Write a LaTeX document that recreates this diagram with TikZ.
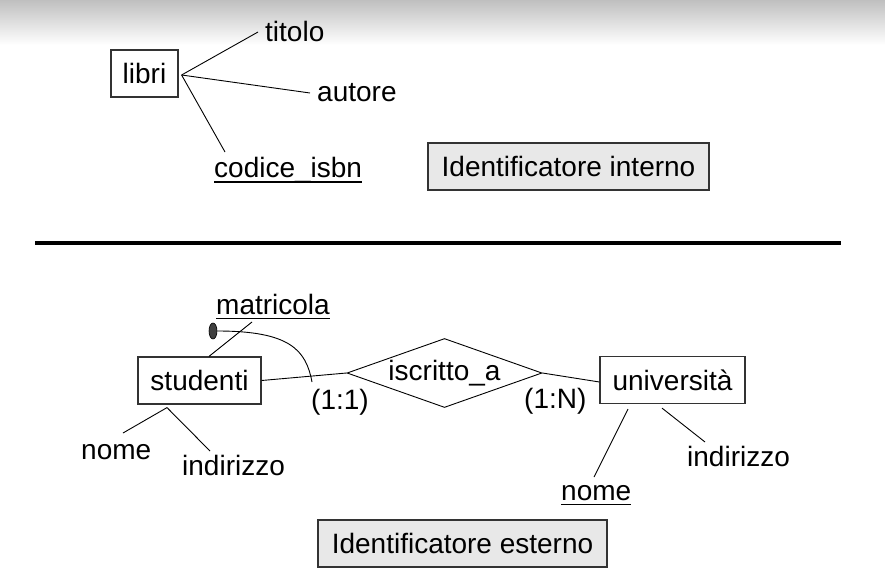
\documentclass[tikz,border=0pt]{standalone}
\usepackage{fontspec}
\setmainfont{Liberation Sans}
\usetikzlibrary{shapes.geometric}
\begin{document}
\begin{tikzpicture}[x=1pt,y=-1pt,
  every node/.style={font=\fontsize{28}{32}\selectfont, inner sep=0pt},
  ent/.style={draw=black!80, line width=1.2pt, fill=white, minimum height=47pt, text height=20pt, text depth=0pt},
  idbox/.style={draw=black!80, line width=1.2pt, fill=black!9, minimum height=47pt, text height=20pt, text depth=0pt},
  txt/.style={anchor=base west},
  conn/.style={line width=0.9pt},
  uline/.style={line width=1.8pt}]
\useasboundingbox (0,0) rectangle (885,583);
\fill[top color=black!25, bottom color=white] (0,0) rectangle (885,45);

% top part
\node[ent, minimum width=67pt] (libri) at (144.5,73.5) {libri};
\node[txt] (titolo) at (265,42) {titolo};
\node[txt] (autore) at (317,102) {autore};
\node[txt] (isbn) at (214,177) {codice\_isbn};
\node[idbox, minimum width=281pt] (idint) at (568.5,166.5) {Identificatore interno};
\coordinate (lh) at ([xshift=3pt,yshift=-1.5pt]libri.east);
\draw[conn] (lh) -- ([xshift=-7pt,yshift=10pt]titolo.base west);
\draw[conn] (lh) -- ([xshift=-7pt,yshift=9pt]autore.base west);
\draw[conn] (lh) -- ([xshift=11pt,yshift=25pt]isbn.base west);
\draw[uline] ([yshift=-5pt]isbn.base west) -- ([yshift=-5pt]isbn.base east);

% separator
\coordinate (r1) at (35,243);
\coordinate (r2) at (841,243);
\draw[line width=3.5pt] (r1) -- (r2);

% bottom part
\node[ent, minimum width=123pt] (stud) at (199.5,380.5) {studenti};
\node[diamond, draw=black, line width=0.9pt, aspect=2.83, minimum width=195pt, minimum height=69pt] (rel) at (444.5,373) {iscritto\_a};
\node[ent, minimum width=145pt] (univ) at (672.5,380) {università};
\node[txt] (matr) at (216,314) {matricola};
\draw[uline] ([yshift=-4.5pt]matr.base west) -- ([yshift=-4.5pt]matr.base east);
\node[txt] (c11) at (311,409) {(1:1)};
\node[txt] (c1n) at (524,408) {(1:N)};
\node[txt] (nomeS) at (81,459) {nome};
\node[txt] (indS) at (182,475) {indirizzo};
\node[txt] (nomeU) at (561,500) {nome};
\draw[uline] ([yshift=-4.5pt]nomeU.base west) -- ([yshift=-4.5pt]nomeU.base east);
\node[txt] (indU) at (687,466) {indirizzo};
\node[idbox, minimum width=289pt] (idest) at (462.5,543.5) {Identificatore esterno};
\node[ellipse, draw=black, fill=black!75, minimum width=8pt, minimum height=16pt, line width=0.6pt] (oval) at (213,331) {};

\draw[conn] (stud.east) -- (rel.west);
\draw[conn] (rel.east) -- ([yshift=-2pt]univ.west);
\draw[conn] ([xshift=36pt,yshift=-8pt]matr.base west) -- ([xshift=9.5pt]stud.north);
\coordinate (cend) at (312,382);
\draw[conn] (oval.east) .. controls (290,331) and (306,350) .. (cend);
\draw[conn] ([xshift=-32.5pt,yshift=-3pt]stud.south) -- ([xshift=42pt,yshift=26pt]nomeS.base west);
\draw[conn] ([xshift=-32.5pt,yshift=-3pt]stud.south) -- ([xshift=28pt,yshift=24pt]indS.base west);
\draw[conn] ([xshift=-44.5pt,yshift=-5pt]univ.south) -- ([xshift=33pt,yshift=23pt]nomeU.base west);
\draw[conn] ([xshift=-10.5pt,yshift=-4pt]univ.south) -- ([xshift=18pt,yshift=24pt]indU.base west);
\end{tikzpicture}
\end{document}
